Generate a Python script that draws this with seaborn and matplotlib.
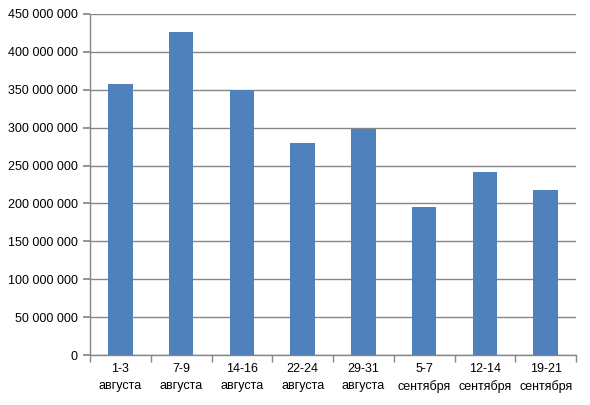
import matplotlib
matplotlib.use("Agg")
import matplotlib.pyplot as plt
import seaborn as sns
import pandas as pd
import numpy as np
from matplotlib.ticker import FuncFormatter, FixedLocator

categories = ["1-3\nавгуста", "7-9\nавгуста", "14-16\nавгуста", "22-24\nавгуста",
              "29-31\nавгуста", "5-7\nсентября", "12-14\nсентября", "19-21\nсентября"]
values = [358000000, 426500000, 350000000, 280000000, 298500000, 195500000, 242000000, 218000000]
y_ticks = list(range(0, 450000001, 50000000))

sns.set_theme(style="white")
plt.rcParams['font.family'] = ['Liberation Sans', 'DejaVu Sans']

df = pd.DataFrame({"cat": categories, "val": values})

fig = plt.figure(figsize=(5.9, 4.05), dpi=100)
ax = fig.add_axes([90/590, 1-355/405, 486/590, 341/405])

sns.barplot(data=df, x="cat", y="val", color="#4F81BD", width=0.4, saturation=1,
            linewidth=0, edgecolor="none", ax=ax)

ax.set_ylim(0, 450000000)
ax.set_xlim(-0.5, len(categories) - 0.5)
ax.yaxis.set_major_locator(FixedLocator(y_ticks))
ax.yaxis.set_major_formatter(FuncFormatter(lambda v, p: f"{int(v):,}".replace(",", " ")))
ax.yaxis.grid(True, color="#868686", linewidth=1)
ax.set_axisbelow(True)

for s in ["top", "right"]:
    ax.spines[s].set_visible(False)
for s in ["left", "bottom"]:
    ax.spines[s].set_color("#868686")
    ax.spines[s].set_linewidth(1)

ax.set_xlabel("")
ax.set_ylabel("")
ax.tick_params(axis="x", which="major", length=0, labelsize=9, colors="black", pad=6)
ax.xaxis.set_minor_locator(FixedLocator(np.arange(-0.5, len(categories), 1.0)))
ax.tick_params(axis="x", which="minor", length=5, color="#868686", direction="out", bottom=True)
ax.tick_params(axis="y", which="major", length=5, color="#868686", direction="out", left=True,
               labelsize=9, colors="black", pad=4)
ax.tick_params(axis="y", colors="#868686", labelcolor="black")
for lbl in ax.get_xticklabels():
    lbl.set_linespacing(1.5)

fig.savefig("out.png", dpi=100, facecolor="white")
